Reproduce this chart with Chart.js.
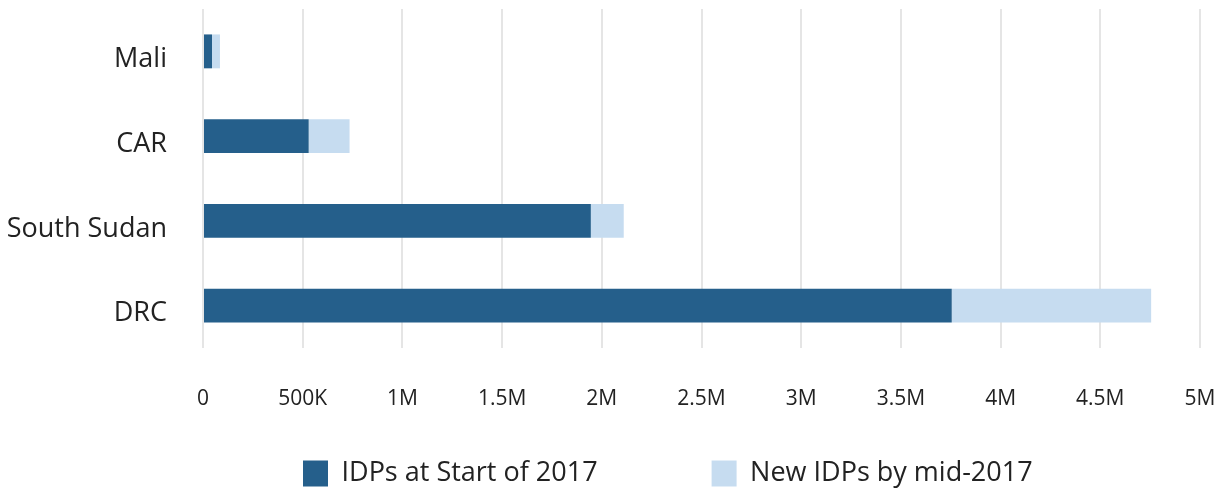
<!DOCTYPE html>
<html>
<head>
<meta charset="utf-8">
<script src="https://cdn.jsdelivr.net/npm/chart.js@4.4.1/dist/chart.umd.min.js"></script>
<style>
html,body{margin:0;padding:0;background:#fff;}
#wrap{width:1230px;height:491px;position:relative;}
</style>
</head>
<body>
<div id="wrap"><canvas id="c"></canvas></div>
<script>
const categories = ["Mali", "CAR", "South Sudan", "DRC"];
const idpsStart2017 = [45000, 530000, 1945000, 3755000];
const newIdpsMid2017 = [40000, 205000, 165000, 1000000];
const seriesLabels = ["IDPs at Start of 2017", "New IDPs by mid-2017"];
const tickValues = [0, 500000, 1000000, 1500000, 2000000, 2500000, 3000000, 3500000, 4000000, 4500000, 5000000];
const tickLabels = ["0", "500K", "1M", "1.5M", "2M", "2.5M", "3M", "3.5M", "4M", "4.5M", "5M"];

const FONT = "'Open Sans', 'Noto Sans', sans-serif";
Chart.defaults.font.family = FONT;
Chart.defaults.color = "#222";

const LEGEND_PAD = 114;
const LEGEND_H = 60;
const LEGEND_BOX_TOP = 460;
const LEGEND_START_X = 303;

const legendPlacement = {
  id: 'legendPlacement',
  beforeUpdate(chart) {
    const lg = chart.legend;
    if (lg && !lg.__patched) {
      const origFit = lg.fit;
      lg.fit = function () { origFit.call(this); this.height = LEGEND_H; };
      lg.__patched = true;
    }
  },
  afterLayout(chart) {
    const lg = chart.legend;
    if (lg) {
      lg.top = LEGEND_BOX_TOP - LEGEND_PAD;
      lg.bottom = chart.height;
      lg.height = lg.bottom - lg.top;
      lg.left = LEGEND_START_X - LEGEND_PAD;
      lg.right = chart.width;
      lg.width = lg.right - lg.left;
    }
  }
};

new Chart(document.getElementById('c'), {
  type: 'bar',
  data: {
    labels: categories,
    datasets: [
      { label: seriesLabels[0], data: idpsStart2017, backgroundColor: '#255f8b', barPercentage: 0.4, categoryPercentage: 1.0 },
      { label: seriesLabels[1], data: newIdpsMid2017, backgroundColor: '#c6dcf0', barPercentage: 0.4, categoryPercentage: 1.0 }
    ]
  },
  plugins: [legendPlacement],
  options: {
    indexAxis: 'y',
    responsive: true,
    maintainAspectRatio: false,
    animation: false,
    layout: { padding: { top: 9, right: 30, bottom: 0, left: 0 } },
    plugins: {
      legend: {
        position: 'bottom',
        align: 'start',
        labels: { font: { size: 27 }, boxWidth: 25, boxHeight: 26, padding: LEGEND_PAD, color: '#222' }
      },
      tooltip: { enabled: false }
    },
    scales: {
      x: {
        stacked: true,
        min: 0, max: 5000000,
        afterBuildTicks: (s) => { s.ticks = tickValues.map(v => ({ value: v })); },
        ticks: {
          callback: (v) => { const i = tickValues.indexOf(v); return i >= 0 ? tickLabels[i] : ''; },
          font: { size: 21 }, padding: 38, maxRotation: 0, autoSkip: false, color: '#222'
        },
        grid: { color: '#e5e5e5', lineWidth: 2, drawTicks: false },
        border: { display: false },
        afterFit: (s) => { s.height = 83; s.paddingLeft = 0; s.paddingRight = 0; }
      },
      y: {
        stacked: true,
        ticks: { font: { size: 27 }, padding: 36, color: '#222', labelOffset: 8 },
        grid: { display: false, drawTicks: false },
        border: { display: false },
        afterFit: (s) => { s.width = 203; s.paddingTop = 0; s.paddingBottom = 0; }
      }
    }
  }
});
</script>
</body>
</html>
